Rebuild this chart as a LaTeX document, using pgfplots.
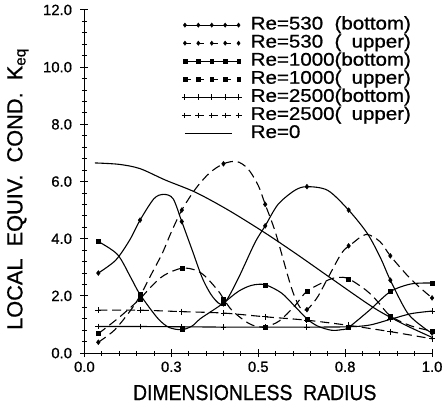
\documentclass[border=0pt]{standalone}
\usepackage{fontspec}
\setmainfont{Liberation Sans}[FakeBold=0.8]
\usepackage{graphicx}
\usepackage{pgfplots}
\pgfplotsset{compat=1.18}
\pgfplotsset{
  sline/.style={black, line width=1.1bp, smooth, no marks, forget plot},
  dline/.style={black, line width=1.1bp, smooth, no marks, forget plot, dash pattern=on 9bp off 5bp},
  mA/.style={only marks, black, mark=diamond*, mark size=2.5pt, forget plot},
  mB/.style={only marks, black, mark=square*, mark size=2pt, forget plot},
  mC/.style={only marks, black, mark=+, mark size=3pt, mark options={line width=1.1bp}, forget plot},
}
\newcommand{\legtxt}[1]{\scalebox{1.12}[1]{#1}}
\begin{document}
\begin{tikzpicture}
\useasboundingbox (-85bp,-61.3bp) rectangle (361bp,355.5bp);
\begin{axis}[
  at={(0,0)}, anchor=south west,
  scale only axis, width=350bp, height=345.5bp,
  xmin=0, xmax=1, ymin=0, ymax=12,
  axis x line=bottom, axis y line=left,
  axis line style={-, line width=1.1bp},
  clip=false,
  xtick={0,0.25,0.5,0.75,1}, xticklabels={0.0,0.3,0.5,0.8,1.0},
  minor x tick num=4,
  ytick={0,2,4,6,8,10,12}, yticklabels={0.0,2.0,4.0,6.0,8.0,10.0,12.0},
  minor y tick num=4,
  tick align=center,
  major tick length=8bp, minor tick length=5bp,
  tick style={line width=0.9bp, black},
  /pgf/number format/assume math mode=true,
  tick label style={font=\fontsize{15}{17}\selectfont},
  yticklabel style={xshift=-5bp},
  xticklabel style={yshift=-1bp},
  xlabel={\scalebox{0.89}[1]{DIMENSIONLESS\ \ RADIUS}},
  ylabel={LOCAL\ \ EQUIV.\ \ COND.\ \ K\textsubscript{eq}},
  xlabel style={at={(axis description cs:0.49,-0.115)}, anchor=center, font=\fontsize{22}{22}\selectfont},
  ylabel style={at={(axis description cs:-0.1914,0.478)}, anchor=center, font=\fontsize{22}{22}\selectfont},
  legend style={at={(axis description cs:0.28,1)}, anchor=north west, yshift=-6bp,
    draw=none, fill=none, inner sep=0pt, row sep=0pt, /tikz/column sep=9bp,
    font=\fontsize{18.5}{18.5}\selectfont,
    nodes={inner sep=0.3bp, text height=13.2bp, text depth=4.4bp}},
  legend cell align=left,
]
% Re=0
\addplot[sline] coordinates {(0.03,6.65)(0.10,6.6)(0.16,6.45)(0.233,6.05)(0.32,5.62)(0.414,5.0)(0.52,4.2)(0.614,3.43)(0.709,2.62)(0.833,1.58)(0.92,1.0)(1.0,0.55)};
% Re=530 bottom
\addplot[sline] coordinates {(0.04,2.8)(0.09,3.25)(0.13,3.95)(0.16,4.65)(0.20,5.4)(0.228,5.55)(0.255,5.4)(0.28,4.6)(0.31,3.6)(0.34,2.6)(0.37,1.95)(0.40,1.72)(0.44,2.55)(0.49,3.85)(0.52,4.45)(0.557,5.2)(0.605,5.69)(0.64,5.82)(0.70,5.69)(0.76,5.0)(0.814,4.18)(0.852,3.32)(0.88,2.55)(0.929,1.41)(0.976,0.89)(1.0,0.7)};
\addplot[mA] coordinates {(0.04,2.8)(0.16,4.65)(0.28,4.6)(0.40,1.72)(0.52,4.45)(0.64,5.82)(0.76,5.0)(0.88,2.55)(1.0,0.7)};
% Re=530 upper
\addplot[dline] coordinates {(0.04,0.38)(0.086,0.8)(0.13,1.45)(0.16,2.0)(0.19,2.7)(0.224,3.49)(0.248,4.18)(0.28,5.0)(0.32,5.75)(0.36,6.3)(0.40,6.62)(0.438,6.7)(0.47,6.45)(0.50,5.86)(0.52,5.2)(0.55,4.2)(0.595,2.3)(0.62,1.6)(0.64,1.52)(0.67,1.95)(0.70,2.62)(0.74,3.5)(0.767,3.8)(0.81,4.15)(0.85,3.9)(0.88,3.4)(0.93,2.7)(0.967,2.27)(1.0,1.93)};
\addplot[mA] coordinates {(0.04,0.38)(0.16,2.0)(0.28,5.0)(0.40,6.62)(0.52,5.2)(0.64,1.52)(0.76,3.75)(0.88,3.4)(1.0,1.93)};
% Re=1000 bottom
\addplot[sline] coordinates {(0.04,3.9)(0.095,3.45)(0.133,2.65)(0.16,2.05)(0.21,1.23)(0.243,0.9)(0.28,0.82)(0.31,0.95)(0.333,1.2)(0.37,1.5)(0.40,1.75)(0.443,2.16)(0.481,2.37)(0.52,2.39)(0.567,2.1)(0.605,1.64)(0.64,1.2)(0.67,0.95)(0.71,0.8)(0.74,0.82)(0.76,0.9)(0.82,1.5)(0.88,2.15)(0.94,2.42)(1.0,2.45)};
\addplot[mB] coordinates {(0.04,3.9)(0.16,2.05)(0.28,0.82)(0.40,1.75)(0.52,2.39)(0.64,1.2)(0.76,0.9)(0.88,2.15)(1.0,2.45)};
% Re=1000 upper
\addplot[dline] coordinates {(0.04,0.68)(0.10,1.25)(0.16,1.9)(0.19,2.3)(0.229,2.72)(0.28,2.97)(0.32,2.9)(0.348,2.68)(0.386,2.16)(0.40,1.9)(0.424,1.5)(0.462,1.12)(0.49,0.95)(0.52,0.92)(0.56,1.12)(0.605,1.65)(0.64,2.16)(0.70,2.55)(0.73,2.65)(0.76,2.6)(0.81,2.2)(0.843,1.81)(0.88,1.3)(0.94,0.95)(1.0,0.77)};
\addplot[mB] coordinates {(0.04,0.68)(0.16,1.9)(0.28,2.97)(0.40,1.9)(0.52,0.92)(0.64,2.16)(0.76,2.6)(0.88,1.3)(1.0,0.77)};
% Re=2500 bottom
\addplot[sline] coordinates {(0.04,0.93)(0.16,0.93)(0.28,0.92)(0.40,0.91)(0.52,0.91)(0.64,0.91)(0.76,0.92)(0.82,0.98)(0.88,1.18)(0.94,1.38)(1.0,1.47)};
\addplot[mC] coordinates {(0.04,0.93)(0.16,0.93)(0.28,0.92)(0.40,0.91)(0.52,0.91)(0.64,0.91)(0.76,0.92)(0.88,1.18)(1.0,1.47)};
% Re=2500 upper
\addplot[dline] coordinates {(0.04,1.5)(0.16,1.5)(0.28,1.45)(0.40,1.4)(0.52,1.27)(0.64,1.15)(0.76,0.97)(0.88,0.75)(1.0,0.5)};
\addplot[mC] coordinates {(0.04,1.5)(0.16,1.5)(0.28,1.45)(0.40,1.4)(0.52,1.27)(0.64,1.15)(0.76,0.97)(0.88,0.75)(1.0,0.5)};
% legend
\addlegendimage{legend image code/.code={\draw[black, line width=1bp] (0bp,0bp)--(54bp,0bp); \draw[black, only marks, mark=diamond*, mark size=2.2pt] plot coordinates {(0bp,0bp) (13.5bp,0bp) (27bp,0bp) (40.5bp,0bp) (54bp,0bp)};}}
\addlegendentry{\legtxt{\rlap{Re=530}\phantom{Re=1000}(bottom)}}
\addlegendimage{legend image code/.code={\draw[black, line width=1bp, dash pattern=on 6bp off 7.5bp] (0bp,0bp)--(54bp,0bp); \draw[black, only marks, mark=diamond*, mark size=2.2pt] plot coordinates {(0bp,0bp) (13.5bp,0bp) (27bp,0bp) (40.5bp,0bp) (54bp,0bp)};}}
\addlegendentry{\legtxt{\rlap{Re=530}\phantom{Re=1000}(\phantom{bottom}\llap{upper})}}
\addlegendimage{legend image code/.code={\draw[black, line width=1bp] (0bp,0bp)--(54bp,0bp); \draw[black, only marks, mark=square*, mark size=1.8pt] plot coordinates {(0bp,0bp) (13.5bp,0bp) (27bp,0bp) (40.5bp,0bp) (54bp,0bp)};}}
\addlegendentry{\legtxt{Re=1000(bottom)}}
\addlegendimage{legend image code/.code={\draw[black, line width=1bp, dash pattern=on 6bp off 7.5bp] (0bp,0bp)--(54bp,0bp); \draw[black, only marks, mark=square*, mark size=1.8pt] plot coordinates {(0bp,0bp) (13.5bp,0bp) (27bp,0bp) (40.5bp,0bp) (54bp,0bp)};}}
\addlegendentry{\legtxt{Re=1000(\phantom{bottom}\llap{upper})}}
\addlegendimage{legend image code/.code={\draw[black, line width=1bp] (0bp,0bp)--(54bp,0bp); \draw[black, only marks, mark=+, mark size=3pt, line width=1bp] plot coordinates {(0bp,0bp) (13.5bp,0bp) (27bp,0bp) (40.5bp,0bp) (54bp,0bp)};}}
\addlegendentry{\legtxt{Re=2500(bottom)}}
\addlegendimage{legend image code/.code={\draw[black, line width=1bp, dash pattern=on 6bp off 7.5bp] (0bp,0bp)--(54bp,0bp); \draw[black, only marks, mark=+, mark size=3pt, line width=1bp] plot coordinates {(0bp,0bp) (13.5bp,0bp) (27bp,0bp) (40.5bp,0bp) (54bp,0bp)};}}
\addlegendentry{\legtxt{Re=2500(\phantom{bottom}\llap{upper})}}
\addlegendimage{legend image code/.code={\draw[black, line width=1bp] (0bp,0bp)--(47bp,0bp);}}
\addlegendentry{\legtxt{Re=0}}
\end{axis}
\end{tikzpicture}
\end{document}
